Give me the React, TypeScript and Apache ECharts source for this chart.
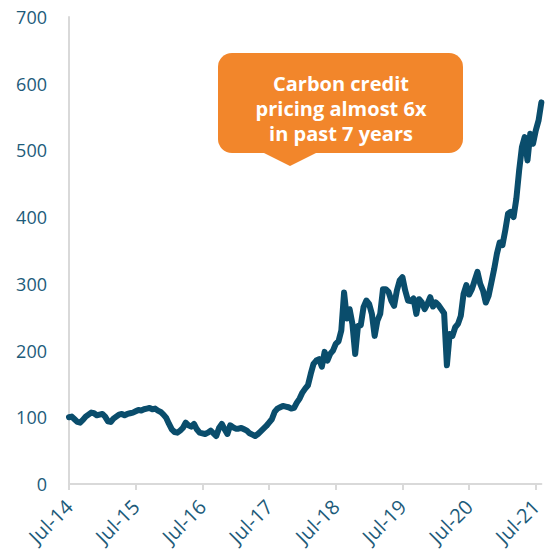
import React, { useEffect, useRef } from "react";
import * as echarts from "echarts";

// Carbon credit price index (Jul-14 = 100), read at half-month steps from Jul 2014
const startYear = 2014;
const startMonth = 6; // July (0-based)
const values: number[] = [
  100, 101, 97, 93, 92, 96, 101, 104, 107, 106,
  103, 104, 105, 101, 94, 93, 98, 101, 104, 105,
  103, 105, 106, 107, 109, 111, 110, 112, 113, 114,
  112, 113, 110, 108, 104, 99, 90, 82, 78, 77,
  80, 84, 92, 88, 86, 90, 82, 77, 76, 75,
  77, 80, 76, 72, 84, 90, 82, 75, 88, 85,
  83, 83, 84, 82, 80, 76, 74, 72, 75, 79,
  83, 87, 92, 97, 108, 113, 115, 117, 116, 115,
  113, 114, 122, 128, 137, 143, 148, 165, 180, 185,
  187, 176, 198, 185, 195, 200, 210, 214, 230, 287,
  248, 262, 240, 195, 237, 238, 265, 275, 270, 255,
  222, 245, 255, 292, 292, 288, 275, 267, 290, 305,
  310, 290, 275, 274, 278, 255, 277, 272, 262, 270,
  280, 266, 272, 268, 262, 256, 178, 225, 222, 235,
  240, 252, 285, 298, 284, 292, 305, 318, 300, 290,
  272, 282, 302, 322, 345, 362, 358, 380, 405, 408,
  400, 428, 470, 505, 520, 485, 525, 510, 530, 545,
  572,
];
const monthNames = ["Jan", "Feb", "Mar", "Apr", "May", "Jun", "Jul", "Aug", "Sep", "Oct", "Nov", "Dec"];
const categories: string[] = values.map((_, i) => {
  const m = startMonth + Math.floor(i / 2);
  const y = startYear + Math.floor(m / 12);
  const mm = m % 12;
  const d = i % 2 === 0 ? "01" : "16";
  return `${y}-${String(mm + 1).padStart(2, "0")}-${d}`;
});
const yTicks = { min: 0, max: 700, interval: 100 };
const annotationLines = ["Carbon credit", "pricing almost 6x", "in past 7 years"];

const isJulyStart = (v: string) => v.slice(5) === "07-01";
const fmtLabel = (v: string) => {
  const mm = parseInt(v.slice(5, 7), 10) - 1;
  return `${monthNames[mm]}-${v.slice(2, 4)}`;
};

export default function App() {
  const ref = useRef<HTMLDivElement>(null);
  useEffect(() => {
    if (!ref.current) return;
    const chart = echarts.init(ref.current, null, { renderer: "svg" });
    const labelColor = "#1d5b7a";
    chart.setOption({
      animation: false,
      backgroundColor: "#ffffff",
      grid: { left: 69, right: 0, top: 17, bottom: 70, containLabel: false },
      xAxis: {
        type: "category",
        data: categories,
        boundaryGap: false,
        axisLine: { show: true, lineStyle: { color: "#d9d9d9", width: 2 } },
        axisTick: {
          show: true,
          length: 6,
          interval: (_i: number, v: string) => isJulyStart(v),
          lineStyle: { color: "#d9d9d9", width: 2 },
        },
        axisLabel: {
          interval: (_i: number, v: string) => isJulyStart(v),
          formatter: (v: string) => fmtLabel(v),
          rotate: 45,
          margin: 19,
          color: labelColor,
          fontSize: 20,
          fontFamily: "Open Sans",
        },
        splitLine: { show: false },
      },
      yAxis: {
        type: "value",
        min: yTicks.min,
        max: yTicks.max,
        interval: yTicks.interval,
        axisLine: { show: true, lineStyle: { color: "#d9d9d9", width: 2 } },
        axisTick: { show: false },
        splitLine: { show: false },
        axisLabel: {
          color: labelColor,
          fontSize: 18,
          margin: 22,
          fontFamily: "Open Sans",
        },
      },
      series: [
        {
          type: "line",
          data: values,
          showSymbol: false,
          symbol: "none",
          lineStyle: { color: "#0a4d6c", width: 6, join: "round", cap: "round" },
          z: 3,
        },
      ],
      graphic: [
        {
          type: "rect",
          shape: { x: 218, y: 53, width: 245, height: 100, r: 14 },
          style: { fill: "#f2862b" },
          z: 10,
        },
        {
          type: "polygon",
          shape: { points: [[262, 152], [318, 152], [290, 166]] },
          style: { fill: "#f2862b" },
          z: 10,
        },
        {
          type: "text",
          x: 341,
          y: 108,
          style: {
            text: annotationLines.join("\n"),
            fill: "#ffffff",
            font: "bold 20px 'Open Sans'",
            align: "center",
            verticalAlign: "middle",
            lineHeight: 25,
          },
          z: 11,
        },
      ],
    });
    return () => chart.dispose();
  }, []);
  return (
    <div
      ref={ref}
      style={{ position: "absolute", left: 0, top: 0, width: 545, height: 554 }}
    />
  );
}
